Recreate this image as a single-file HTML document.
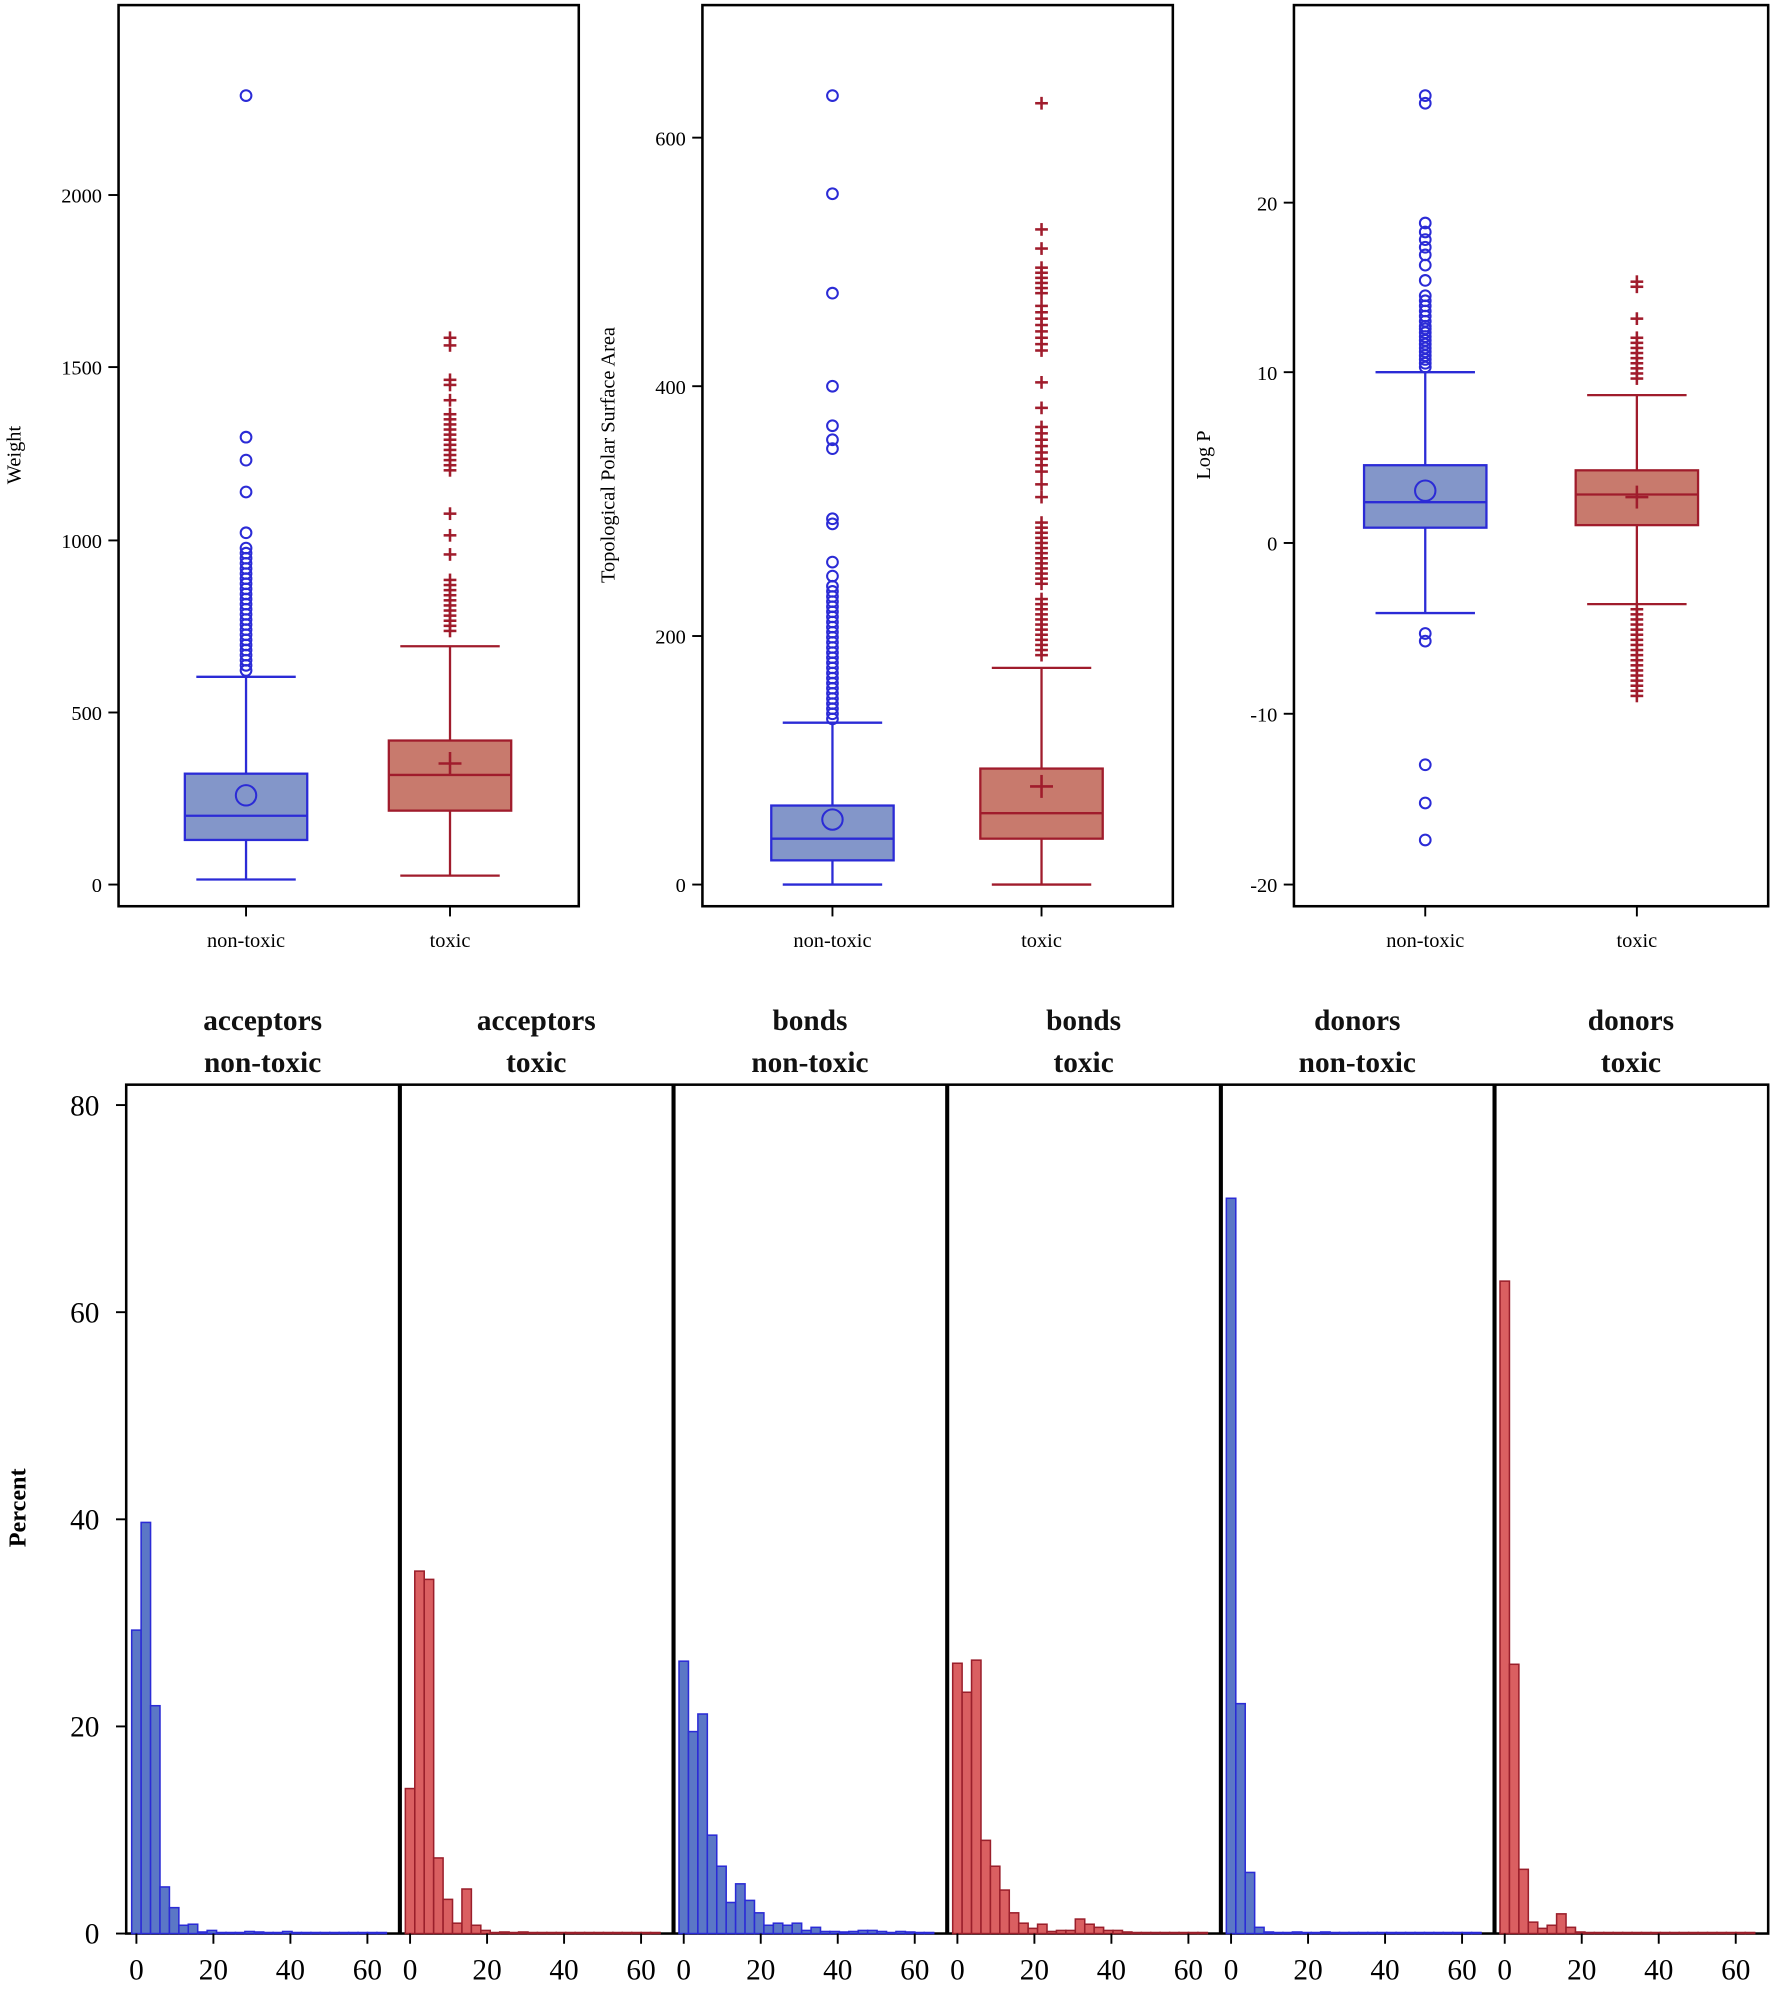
<!DOCTYPE html>
<html><head><meta charset="utf-8">
<style>html,body{margin:0;padding:0;background:#fff;}svg{display:block;}</style>
</head><body>
<svg id="s" width="1772" height="1996" viewBox="0 0 1390 1566" preserveAspectRatio="none" xmlns="http://www.w3.org/2000/svg" font-family="Liberation Serif, serif">
<rect width="1390" height="1566" fill="#fff"/>
</svg>
<script>
const S=document.getElementById('s');let h='';
const BS='#2b2bd6',BF='#8396c9',RS='#a01c2c',RF='#c87a6d',HBF='#5b77c6',HRF='#da5f61',HRS='#9a1f2b';
function L(x1,y1,x2,y2,c,w){h+=`<line x1="${x1}" y1="${y1}" x2="${x2}" y2="${y2}" stroke="${c}" stroke-width="${w||1.5}"/>`;}
function T(x,y,t,sz,anc,extra){h+=`<text x="${x}" y="${y}" font-size="${sz}" text-anchor="${anc||'middle'}" ${extra||''}>${t}</text>`;}
function circ(x,y,r,c){h+=`<circle cx="${x}" cy="${y}" r="${r}" fill="none" stroke="${c}" stroke-width="1.6"/>`;}
function plus(x,y,r,c){L(x-r,y,x+r,y,c,2);L(x,y-r,x,y+r,c,2);}
function dense(a,b,st){let r=[];for(let y=a;y<=b;y+=st)r.push(y);return r;}
// box panels
function panel(x0,x1,ticks,label,lx,boxes){
 h+=`<rect x="${x0}" y="4" width="${x1-x0}" height="707" fill="none" stroke="#000" stroke-width="2"/>`;
 ticks.forEach(t=>{L(x0-8,t[0],x0,t[0],'#000',1.5);T(x0-13,t[0]+6,t[1],16,'end');});
 h+=`<text transform="translate(${lx},357) rotate(-90)" font-size="16" text-anchor="middle">${label}</text>`;
 boxes.forEach((b,i)=>{
  const c=b.cx,S2=i?RS:BS,F=i?RF:BF;
  L(c,711,c,719,'#000',1.5);T(c,743,i?'toxic':'non-toxic',16);
  L(c,b.wt,c,b.wb,S2,1.8);L(c-39,b.wt,c+39,b.wt,S2,1.8);L(c-39,b.wb,c+39,b.wb,S2,1.8);
  h+=`<rect x="${c-48}" y="${b.q3}" width="96" height="${b.q1-b.q3}" fill="${F}" stroke="${S2}" stroke-width="1.8"/>`;
  L(c-48,b.med,c+48,b.med,S2,1.8);
  if(i)plus(c,b.mean,9,S2);else circ(c,b.mean,8,S2);
  b.out.forEach(y=>{if(i)plus(c,y,5,S2);else circ(c,y,4.2,S2);});
 });
}
panel(93,454,[[694,'0'],[559,'500'],[424,'1000'],[288,'1500'],[153,'2000']],'Weight',16,[
 {cx:193,wt:531,wb:690,q3:607,q1:659,med:640,mean:624,out:[75,343,361,386,418].concat(dense(430,528,4))},
 {cx:353,wt:507,wb:687,q3:581,q1:636,med:608,mean:599,out:[265,271,298,302,314].concat(dense(325,372,4),[403,420,435],dense(455,498,4))}]);
panel(551,920,[[694,'0'],[499,'200'],[303,'400'],[108,'600']],'Topological Polar Surface Area',482,[
 {cx:653,wt:567,wb:694,q3:632,q1:675,med:658,mean:643,out:[75,152,230,303,334,345,352,407,411,441,452].concat(dense(460,565,4))},
 {cx:817,wt:524,wb:694,q3:603,q1:658,med:638,mean:617,out:[81,180,195].concat(dense(210,232,4),dense(240,276,5),[300,320],dense(335,370,5),[380,390],dense(410,460,4),dense(470,515,4))}]);
panel(1015,1387,[[694,'-20'],[560,'-10'],[426,'0'],[292,'10'],[159,'20']],'Log P',949,[
 {cx:1118,wt:292,wb:481,q3:365,q1:414,med:394,mean:385,out:[75,81,175,182,188,194,200,208,220].concat(dense(232,256,4),dense(258,290,3),[497,503,600,630,659])},
 {cx:1284,wt:310,wb:474,q3:369,q1:412,med:388,mean:390,out:[221,225,250].concat(dense(265,300,4),dense(478,546,4))}]);
// histograms
const Y0=1517,PY=650/80;
h+=`<rect x="99" y="851" width="1288" height="666" fill="none" stroke="#000" stroke-width="2"/>`;
[[1517,'0'],[1354.5,'20'],[1192,'40'],[1029.5,'60'],[867,'80']].forEach(t=>{L(91,t[0],99,t[0],'#000',1.5);T(78,t[0]+8,t[1],23,'end');});
h+=`<text transform="translate(20,1183) rotate(-90)" font-size="19" font-weight="bold" text-anchor="middle">Percent</text>`;
const titles=[['acceptors','non-toxic'],['acceptors','toxic'],['bonds','non-toxic'],['bonds','toxic'],['donors','non-toxic'],['donors','toxic']];
const data=[
 [29.3,39.7,22,4.5,2.5,0.8,0.9,0.15,0.3,0.1,0.1,0.1,0.2,0.15,0.1,0.1,0.2,0.1,0.1,0.1,0.1,0.1,0.1,0.1,0.1,0.1,0.1],
 [14,35,34.2,7.3,3.3,1,4.3,0.8,0.3,0.1,0.15,0.1,0.15,0.1,0.1,0.1,0.1,0.1,0.1,0.1,0.1,0.1,0.1,0.1,0.1,0.1,0.1],
 [26.3,19.5,21.2,9.5,6.5,3,4.8,3.2,2,0.8,1,0.8,1,0.3,0.6,0.2,0.2,0.15,0.2,0.3,0.3,0.2,0.1,0.2,0.15,0.1,0.1],
 [26.1,23.3,26.4,9,6.5,4.2,2,1,0.5,0.9,0.2,0.3,0.3,1.4,0.9,0.6,0.3,0.3,0.15,0.1,0.1,0.1,0.1,0.1,0.1,0.1,0.1],
 [71,22.2,5.9,0.6,0.15,0.1,0.1,0.15,0.1,0.1,0.15,0.1,0.1,0.1,0.1,0.1,0.1,0.1,0.1,0.1,0.1,0.1,0.1,0.1,0.1,0.1,0.1],
 [63,26,6.2,1.1,0.5,0.8,1.9,0.6,0.15,0.1,0.1,0.1,0.1,0.1,0.1,0.1,0.1,0.1,0.1,0.1,0.1,0.1,0.1,0.1,0.1,0.1,0.1]];
const U=3.02,BW=2.45*U;
for(let k=0;k<6;k++){
 const px=99+214.67*k,x0=px+8;
 T(px+107,808,titles[k][0],23,'middle','font-weight="bold" fill="#111"');
 T(px+107,841,titles[k][1],23,'middle','font-weight="bold" fill="#111"');
 if(k>0)L(px,851,px,1517,'#000',3.2);
 const blue=(k%2==0),F=blue?HBF:HRF,Sc=blue?BS:HRS;
 data[k].forEach((v,i)=>{const x=x0-BW/2+i*BW;const hh=v*PY;
  h+=`<rect x="${x.toFixed(2)}" y="${(Y0-hh).toFixed(2)}" width="${BW.toFixed(2)}" height="${hh.toFixed(2)}" fill="${F}" stroke="${Sc}" stroke-width="1.2"/>`;});
 [0,20,40,60].forEach(v=>{const x=x0+v*U;L(x,1517,x,1525,'#000',1.5);T(x,1553,v,23);});
}
S.insertAdjacentHTML('beforeend',h);
</script>
</body></html>
